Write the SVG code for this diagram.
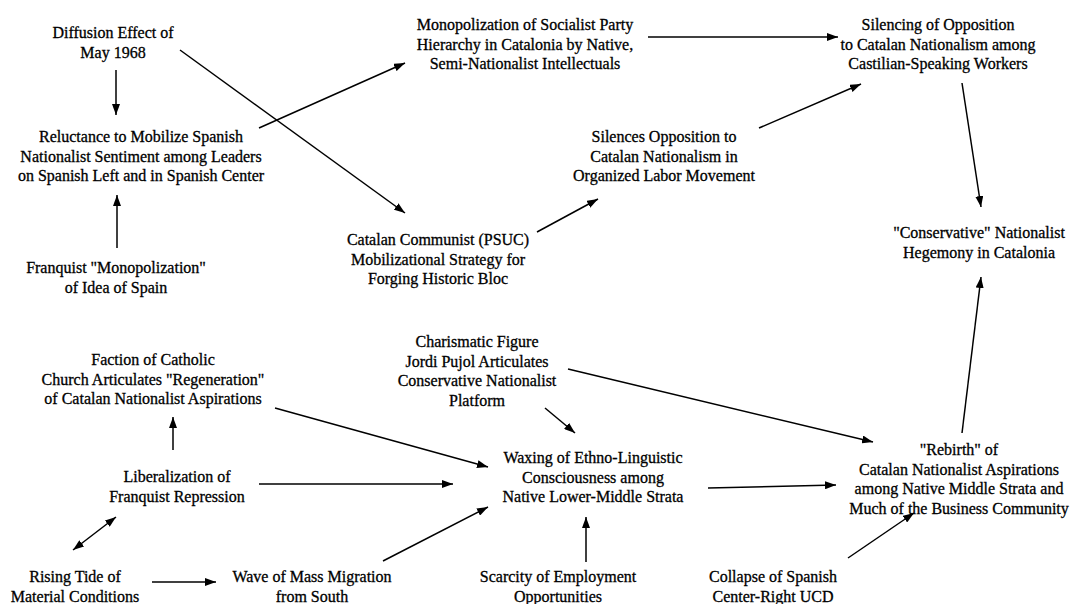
<svg xmlns="http://www.w3.org/2000/svg" width="1074" height="604" viewBox="0 0 1074 604">
<defs>
<marker id="ah" markerUnits="userSpaceOnUse" markerWidth="11" markerHeight="8" refX="11" refY="4" orient="auto">
<path d="M0,0 L11,4 L0,8 z" fill="#000"/>
</marker>
<marker id="ahs" markerUnits="userSpaceOnUse" markerWidth="11" markerHeight="8" refX="0" refY="4" orient="auto">
<path d="M11,0 L0,4 L11,8 z" fill="#000"/>
</marker>
<style>
text{font-family:'Liberation Serif','Times New Roman',serif;font-size:16px;fill:#000;stroke:#000;stroke-width:0.3;text-anchor:middle}
.c line{stroke:#000;stroke-width:1.5;marker-end:url(#ah)}
</style>
</defs>
<rect width="1074" height="604" fill="#fff"/>
<g class="c" id="connectors">
<line x1="116" y1="70" x2="116" y2="115"/>
<line x1="117" y1="248" x2="117" y2="195"/>
<line x1="180" y1="50" x2="405" y2="213"/>
<line x1="259" y1="128" x2="405" y2="63"/>
<line x1="648" y1="37" x2="838" y2="37"/>
<line x1="537" y1="232" x2="598" y2="199"/>
<line x1="759" y1="128" x2="861" y2="84"/>
<line x1="962" y1="83" x2="981" y2="207"/>
<line x1="962" y1="433" x2="981" y2="277"/>
<line x1="173" y1="450" x2="173" y2="417"/>
<line x1="259" y1="484" x2="453" y2="484"/>
<line x1="275" y1="408" x2="488" y2="467"/>
<line x1="73" y1="550" x2="116" y2="517" marker-start="url(#ahs)"/>
<line x1="152" y1="582" x2="216" y2="582"/>
<line x1="383" y1="561" x2="488" y2="507"/>
<line x1="545" y1="408" x2="575" y2="433"/>
<line x1="568" y1="369" x2="873" y2="442"/>
<line x1="708" y1="488" x2="836" y2="485"/>
<line x1="586" y1="562" x2="586" y2="517"/>
<line x1="848" y1="558" x2="914" y2="513"/>
</g>
<g id="diffusion"><text x="113" y="38">Diffusion Effect of</text><text x="113" y="57.5">May 1968</text></g>
<g id="reluctance"><text x="141" y="142">Reluctance to Mobilize Spanish</text><text x="141" y="161.5">Nationalist Sentiment among Leaders</text><text x="141" y="181">on Spanish Left and in Spanish Center</text></g>
<g id="franquist"><text x="116" y="273">Franquist "Monopolization"</text><text x="116" y="292.5">of Idea of Spain</text></g>
<g id="monopolization"><text x="525" y="30">Monopolization of Socialist Party</text><text x="525" y="49.5">Hierarchy in Catalonia by Native,</text><text x="525" y="69">Semi-Nationalist Intellectuals</text></g>
<g id="silencing"><text x="938" y="30">Silencing of Opposition</text><text x="938" y="49.5">to Catalan Nationalism among</text><text x="938" y="69">Castilian-Speaking Workers</text></g>
<g id="organized"><text x="664" y="142">Silences Opposition to</text><text x="664" y="161.5">Catalan Nationalism in</text><text x="664" y="181">Organized Labor Movement</text></g>
<g id="psuc"><text x="438" y="245">Catalan Communist (PSUC)</text><text x="438" y="264.5">Mobilizational Strategy for</text><text x="438" y="284">Forging Historic Bloc</text></g>
<g id="conservative"><text x="979" y="238">"Conservative" Nationalist</text><text x="979" y="257.5">Hegemony in Catalonia</text></g>
<g id="faction"><text x="153" y="365">Faction of Catholic</text><text x="153" y="384.5">Church Articulates "Regeneration"</text><text x="153" y="404">of Catalan Nationalist Aspirations</text></g>
<g id="charismatic"><text x="477" y="347">Charismatic Figure</text><text x="477" y="366.5">Jordi Pujol Articulates</text><text x="477" y="386">Conservative Nationalist</text><text x="477" y="405.5">Platform</text></g>
<g id="liberalization"><text x="177" y="482">Liberalization of</text><text x="177" y="501.5">Franquist Repression</text></g>
<g id="waxing"><text x="593" y="463">Waxing of Ethno-Linguistic</text><text x="593" y="482.5">Consciousness among</text><text x="593" y="502">Native Lower-Middle Strata</text></g>
<g id="rebirth"><text x="959" y="455">"Rebirth" of</text><text x="959" y="474.5">Catalan Nationalist Aspirations</text><text x="959" y="494">among Native Middle Strata and</text><text x="959" y="513.5">Much of the Business Community</text></g>
<g id="rising"><text x="75" y="582">Rising Tide of</text><text x="75" y="601.5">Material Conditions</text></g>
<g id="wave"><text x="312" y="582">Wave of Mass Migration</text><text x="312" y="601.5">from South</text></g>
<g id="scarcity"><text x="558" y="582">Scarcity of Employment</text><text x="558" y="601.5">Opportunities</text></g>
<g id="collapse"><text x="773" y="582">Collapse of Spanish</text><text x="773" y="601.5">Center-Right UCD</text></g>
</svg>
